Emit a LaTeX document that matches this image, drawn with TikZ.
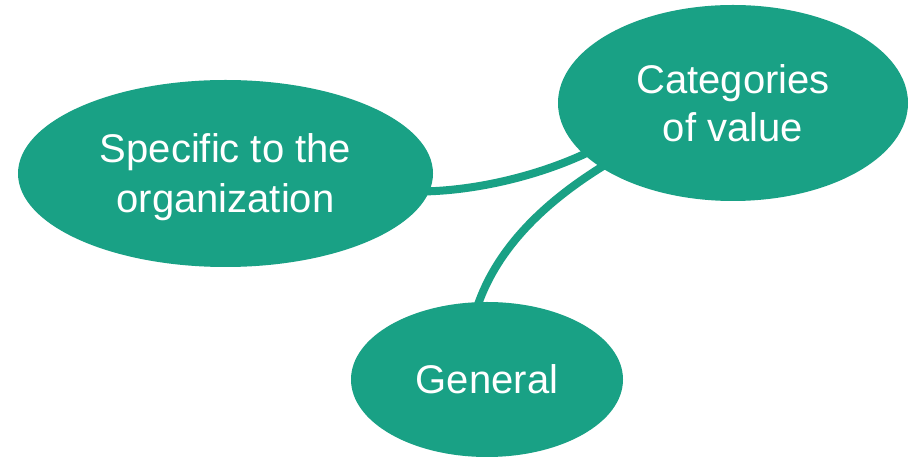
\documentclass[tikz,border=0pt]{standalone}
\usepackage{fontspec}
\setmainfont{Liberation Sans}
\usetikzlibrary{shapes.geometric}
\definecolor{teal1}{RGB}{25,161,133}
\begin{document}
\begin{tikzpicture}[x=1pt,y=1pt,
  bubble/.style={ellipse,fill=teal1,draw=none,inner sep=0pt,text=white,align=center,
    font=\fontsize{40}{48}\selectfont},
  link/.style={draw=teal1,line width=8pt,shorten <=-4pt,shorten >=-4pt}]
\useasboundingbox[fill=white] (0,0) rectangle (913,460);
\node[bubble,minimum width=350pt,minimum height=196pt] (cat) at (733,357) {Categories\\of value};
\node[bubble,minimum width=415pt,minimum height=187pt,text depth=0pt,
  font=\fontsize{40}{50}\selectfont] (spec) at (225.5,286.5) {Specific to the\\organization};
\node[bubble,minimum width=272pt,minimum height=155pt] (gen) at (487,80.5) {General};
\draw[link] (spec.-5.5) .. controls (480,270) and (540,285) .. (cat.199.4);
\draw[link] (gen.96.6) .. controls (495,205) and (535,252) .. (cat.206.9);
\end{tikzpicture}
\end{document}
